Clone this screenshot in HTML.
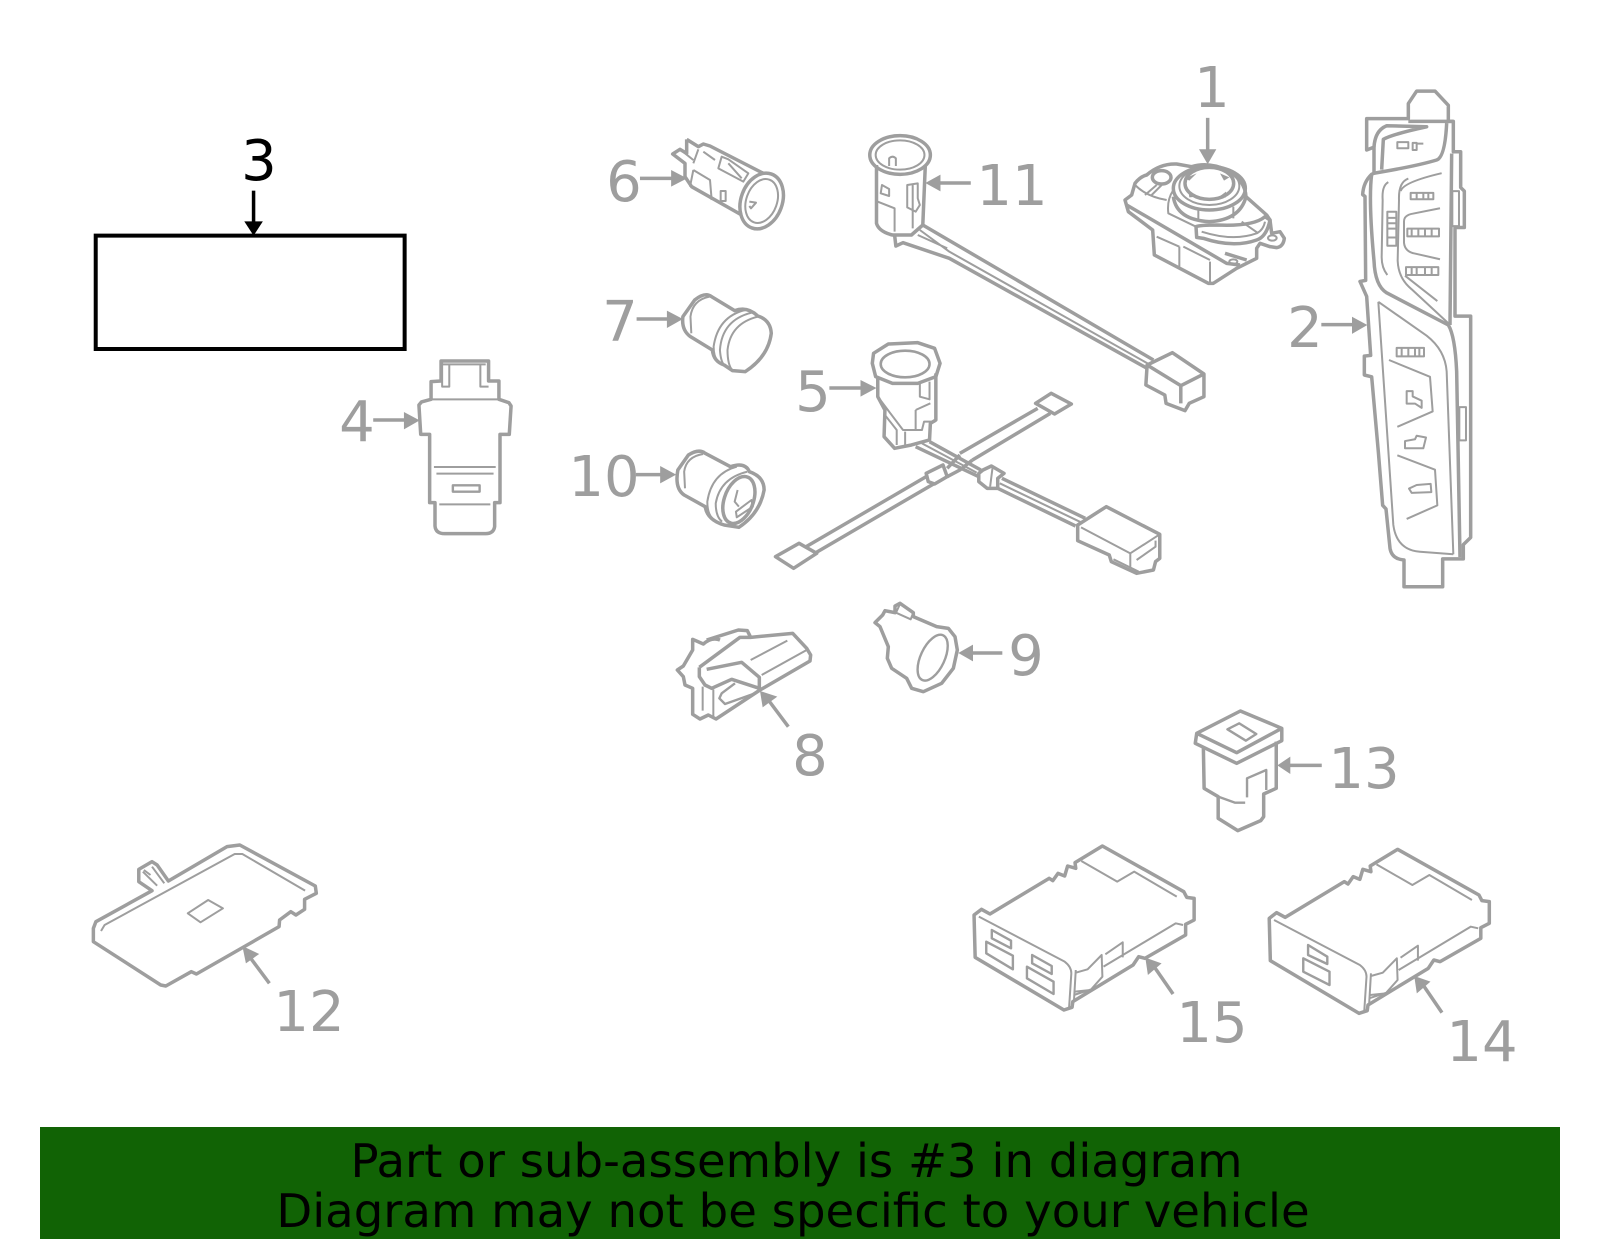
<!DOCTYPE html>
<html><head><meta charset="utf-8"><style>
html,body{margin:0;padding:0;background:#fff;width:1600px;height:1249px;overflow:hidden}
svg{display:block;position:absolute;left:0;top:0}
path,line,ellipse,rect,polygon,polyline{vector-effect:non-scaling-stroke;stroke-linejoin:round}
.o{fill:none;stroke:#9e9e9e;stroke-width:3.500}
.i{fill:none;stroke:#9e9e9e;stroke-width:2}
.a{fill:none;stroke:#9e9e9e;stroke-width:3.500}
.h{fill:#9e9e9e;stroke:none}
text{font-family:"DejaVu Sans","Liberation Sans",sans-serif}
.l{font-size:56px;fill:#9e9e9e;text-anchor:middle}
.b{font-size:46.600px;fill:#000;text-anchor:middle}
</style></head><body>
<svg width="1600" height="1249" viewBox="0 0 1600 1249" xmlns="http://www.w3.org/2000/svg">
<rect x="40" y="1127" width="1520" height="112" fill="#116305"/>
<text class="b" x="796.500" y="1177">Part or sub-assembly is #3 in diagram</text>
<text class="b" x="793" y="1227">Diagram may not be specific to your vehicle</text>

<text class="l" x="1212" y="107">1</text>
<text class="l" x="1305" y="347">2</text>
<text class="l" x="259" y="180" style="fill:#000">3</text>
<text class="l" x="357" y="441">4</text>
<text class="l" x="813" y="411">5</text>
<text class="l" x="624" y="201">6</text>
<text class="l" x="620" y="341">7</text>
<text class="l" x="810" y="775">8</text>
<text class="l" x="1026" y="675">9</text>
<text class="l" x="604" y="496">10</text>
<text class="l" x="1012" y="205">11</text>
<text class="l" x="309" y="1031">12</text>
<text class="l" x="1364" y="788">13</text>
<text class="l" x="1482" y="1061">14</text>
<text class="l" x="1212" y="1042">15</text>

<!-- zoom 7 : part 1 -->
<g transform="translate(1120,150) scale(.33333,.33333)">
<path class="o" d="M15,150 L35,135 L45,100 Q60,80 80,75 Q120,40 170,42 L215,50 Q265,35 320,60 Q375,90 378,140 L440,195 L450,210 L455,250 L480,245 L493,265 Q490,290 470,293 L450,290 L420,280 L410,295 L410,325 L380,340 L350,355 L280,400 L265,400 L103,315 L98,240 L25,185 Z"/>
<ellipse class="o" cx="268" cy="115" rx="108" ry="65"/>
<ellipse class="i" cx="268" cy="108" rx="90" ry="57"/>
<ellipse class="o" cx="268" cy="100" rx="73" ry="48"/>
<ellipse class="o" cx="125" cy="82" rx="28" ry="20"/>
<path class="o" d="M160,140 Q170,210 268,215 Q360,210 378,140"/>
<path class="i" d="M235,178 V213 M340,170 V205 M75,135 L110,105 M95,135 L125,105 M45,105 Q80,140 140,150 M160,120 Q140,150 145,190 L228,230"/>
<path class="o" d="M228,230 Q240,225 290,225 Q400,230 435,200 L450,210 Q440,260 410,270 Q340,295 250,265 L230,262 Z"/>
<path class="i" d="M245,245 Q340,275 410,250 Q430,240 435,215 M365,215 L415,250"/>
<path class="o" d="M20,165 L320,340 L360,345 M315,310 L380,330"/>
<ellipse class="i" cx="340" cy="335" rx="12" ry="7"/>
<ellipse class="i" cx="457" cy="264" rx="13" ry="8"/>
<path class="i" d="M178,290 V350 M270,335 V398 M110,260 L178,290 M190,290 L270,330"/>
<path class="h" d="M195,85 L230,70 L208,92 Z M300,70 L328,82 L312,92 Z M205,122 L232,140 L208,142 Z M318,125 L295,142 L318,142 Z"/>
</g>

<!-- zoom 1 : part 2 + arrows -->
<g transform="translate(1100,50) scale(.33333,.35714)">
<line class="a" x1="323" y1="190" x2="323" y2="285"/><polygon class="h" points="297,278 349,278 323,320"/>
<line class="a" x1="664" y1="769" x2="760" y2="769"/><polygon class="h" points="756,747 756,795 802,770"/>
<path class="o" d="M950,115 L1005,115 L1045,155 L1045,200 L1060,200 L1060,285 L1082,285 L1082,385 L1093,395 L1093,497 L1065,497 L1065,745 L1112,745 L1112,1365 L1090,1385 L1090,1425 L1028,1425 L1028,1503 L912,1503 L912,1428 Q875,1425 870,1395 L858,1285 L848,1275 L835,1125 L815,915 L793,910 L793,857 L812,855 L800,690 L780,648 L797,645 L795,410 L788,405 Q790,370 815,348 L822,345 L822,272 L800,280 L800,192 L925,192 L925,150 Z"/>
<path class="o" d="M925,200 L1060,200 M822,345 Q950,325 1010,308 Q1035,300 1040,205 M822,272 Q825,225 860,212 L980,215 Q880,235 850,250 L845,335"/>
<path class="o" d="M815,348 Q805,420 822,590 Q825,660 860,680 L1045,770 Q1065,800 1070,900 L1080,1420 M1055,290 L1050,770"/>
<path class="i" d="M865,370 Q845,380 848,420 L845,580 Q845,610 862,630 M925,360 Q895,370 897,420 L893,590 Q895,640 935,670 L1045,765 M902,395 Q910,370 1025,345 M1020,443 L940,458 Q912,462 912,480 L912,540 Q915,565 945,570 L1020,586 M915,632 L1012,703"/>
<path class="i" d="M835,705 L880,1330 Q890,1400 960,1405 L1060,1412 M835,705 L980,800 Q1035,840 1040,900 L1060,1412 M867,868 L990,915 L998,1012 L892,1055 M892,1135 L1005,1175 L1012,1275 L920,1313"/>
<rect class="i" x="862" y="453" width="27" height="95"/><path class="i" d="M862,470 H889 M862,485 H889 M862,500 H889 M862,525 H889"/>
<rect class="i" x="932" y="400" width="68" height="18"/><path class="i" d="M950,400 V418 M970,400 V418 M985,400 V418"/>
<rect class="i" x="922" y="500" width="95" height="22"/><path class="i" d="M935,500 V522 M955,500 V522 M975,500 V522 M995,500 V522"/>
<rect class="i" x="918" y="608" width="97" height="22"/><path class="i" d="M935,608 V630 M950,608 V630 M975,608 V630 M995,608 V630"/>
<rect class="i" x="890" y="834" width="82" height="24"/><path class="i" d="M905,834 V858 M925,834 V858 M945,834 V858 M958,834 V858"/>
<path class="i" d="M892,258 H925 V275 H892 Z M938,260 H950 V280 H938 Z M952,262 H970"/>
<path class="i" d="M920,955 L938,955 L938,970 L965,982 L965,1002 L945,990 L920,990 Z"/>
<path class="i" d="M915,1095 L945,1090 L950,1080 L978,1085 L970,1115 L915,1115 Z"/>
<path class="i" d="M927,1228 L950,1218 L992,1215 L994,1238 L935,1240 Z"/>
<rect class="i" x="1057" y="395" width="20" height="98"/>
<rect class="i" x="1078" y="1000" width="20" height="93"/>
</g>

<!-- zoom 3 : part 3, 4 -->
<g transform="translate(0,120) scale(.35714,.33333)">
<rect x="268" y="347" width="865" height="340" fill="none" stroke="#000" stroke-width="4" style="stroke-linejoin:miter"/>
<line x1="710" y1="212" x2="710" y2="310" stroke="#000" stroke-width="3.500"/>
<polygon fill="#000" points="684,304 736,304 710,347"/>
<line class="a" x1="1045" y1="900" x2="1135" y2="900"/><polygon class="h" points="1131,876 1131,928 1175,901"/>
<path class="o" d="M1235,723 L1368,723 L1368,783 L1397,783 L1397,838 L1425,848 L1431,858 L1426,943 L1400,943 L1400,1148 L1385,1148 L1385,1220 Q1382,1241 1360,1241 L1245,1241 Q1220,1241 1218,1218 L1218,1148 L1203,1148 L1203,943 L1178,943 L1173,855 L1180,846 L1207,838 L1207,785 L1235,783 Z"/>
<path class="i" d="M1207,838 H1397 M1238,733 H1360 M1238,723 V800 H1258 V733 M1345,733 V800 H1368 M1215,1041 H1388 M1222,1061 H1382 M1230,1153 H1373"/>
<rect class="i" x="1268" y="1096" width="75" height="19" style="stroke-width:2.400"/>
</g>

<!-- zoom 8 : part 6 -->
<g transform="translate(660,130) scale(.33333,.33333)">
<path class="o" d="M80,28 L115,50 L130,42 L150,48 L310,130 M245,255 L95,170 L75,140 L75,100 L38,72 L60,58 L80,70 L80,28"/>
<ellipse class="o" cx="305" cy="213" rx="62" ry="86" transform="rotate(20 305 213)"/>
<ellipse class="i" cx="305" cy="213" rx="46" ry="68" transform="rotate(20 305 213)"/>
<path class="i" d="M100,120 L150,150 L155,210 M100,120 L90,170 M115,58 L100,100 M130,65 L165,90 M185,80 L205,88 L265,130 L250,155 L175,115 Z M205,100 L245,145 M60,58 L100,90"/>
<rect class="i" x="182" y="183" width="15" height="30"/>
<path class="i" d="M268,215 L288,218 L273,235 L268,228"/>
</g>

<!-- zoom 2 : parts 5,7,10,11 -->
<g transform="translate(560,120) scale(.42088,.33333)">
<line class="a" x1="190" y1="175" x2="268" y2="175"/><polygon class="h" points="264,150 264,200 302,175"/>
<line class="a" x1="182" y1="597" x2="258" y2="597"/><polygon class="h" points="254,572 254,624 292,597"/>
<line class="a" x1="640" y1="804" x2="718" y2="804"/><polygon class="h" points="714,780 714,830 752,804"/>
<line class="a" x1="180" y1="1064" x2="242" y2="1064"/><polygon class="h" points="238,1038 238,1090 276,1064"/>
<line class="a" x1="976" y1="189" x2="900" y2="189"/><polygon class="h" points="904,164 904,214 868,189"/>
<!-- 11 -->
<ellipse class="o" cx="808" cy="105" rx="72" ry="58"/>
<ellipse class="i" cx="808" cy="105" rx="58" ry="44"/>
<path class="o" d="M752,135 L752,310 Q758,335 790,345 L835,345 L862,315 L868,135"/>
<path class="o" d="M795,345 L798,378 L815,368 L925,415 L1395,745 M862,315 L1410,720"/>
<path class="i" d="M855,330 L925,395 L1400,733 M850,345 L920,385"/>
<path class="i" d="M782,138 L782,115 Q790,105 798,115 V138 M765,195 L782,207 L782,228 L762,220 Z M755,245 L795,265 L795,335 M838,190 V325 M825,195 L825,262 L845,275 L855,255 L850,235 V190 Z"/>
<path class="o" d="M1395,735 L1455,698 L1530,762 L1530,830 L1495,850 L1485,872 L1440,850 L1437,825 L1392,795 Z M1395,735 L1475,797 L1530,762 M1475,797 V850"/>
<!-- 7 -->
<path class="o" d="M320,540 Q345,515 360,530 L415,572 Q445,558 470,588 Q500,600 502,640 Q495,710 440,755 L410,752 L390,735 Q365,725 362,690 L310,650 Q288,630 292,590 Z"/>
<path class="i" d="M355,530 Q315,540 310,590 L312,640 M470,590 Q405,610 398,690 Q398,735 410,752 M440,570 Q375,590 365,680 Q365,710 375,725 M455,578 Q385,600 380,690 Q382,725 390,735"/>
<!-- 10 -->
<path class="o" d="M305,1005 Q330,985 345,1000 L405,1040 Q440,1025 450,1055 Q485,1070 485,1110 Q475,1180 425,1222 L390,1215 Q350,1200 345,1160 L295,1125 Q272,1105 280,1050 Z"/>
<ellipse class="o" cx="425" cy="1140" rx="35" ry="72" transform="rotate(14 425 1140)"/>
<path class="i" d="M340,1002 Q300,1010 295,1055 L297,1105 M445,1055 Q380,1075 370,1150 Q370,1190 385,1205 M420,1040 Q360,1060 350,1145 Q350,1180 362,1195"/>
<path class="i" d="M418,1175 L455,1140 L458,1160 L420,1192 Z M422,1110 L415,1145 L425,1160"/>
<!-- 5 -->
<path class="o" d="M745,700 L780,672 L850,668 L890,685 L903,730 L893,770 L850,790 L790,790 L750,770 L742,730 Z"/>
<ellipse class="i" cx="820" cy="732" rx="58" ry="40" style="stroke-width:2.600"/>
<path class="o" d="M755,775 L755,830 L772,870 L770,950 L795,985 L835,975 L878,960 L880,910 L893,900 L893,760"/>
<path class="i" d="M755,830 L815,930 L860,930 L865,905 L892,905 M855,785 V830 L878,838 V785 M845,870 L880,850 M845,870 V930 M772,885 L800,930 L800,975 M820,935 V978"/>
<path class="o" d="M878,965 L1000,1050 M845,980 L995,1070"/>
<path class="i" d="M860,970 L990,1058"/>
<path class="o" d="M1005,1050 L1025,1038 L1055,1060 L1040,1075 L1040,1105 L1015,1105 L995,1085 L995,1060 Z M1050,1075 L1248,1195 M1040,1105 L1225,1218"/>
<path class="i" d="M1045,1090 L1238,1207 M1028,1040 L1022,1100"/>
<path class="o" d="M1230,1215 L1298,1160 L1425,1243 L1425,1315 L1415,1325 L1410,1350 L1370,1360 L1310,1325 L1305,1305 L1230,1262 Z"/>
<path class="i" d="M1238,1222 L1355,1300 L1425,1243 M1355,1300 V1345 M1370,1320 L1415,1280 V1262 M1315,1318 L1375,1355"/>
<!-- cross harness -->
<path class="o" d="M950,1000 L1135,865 M980,1020 L1165,880 M1130,850 L1167,820 L1215,852 L1175,882 Z"/>
<path class="o" d="M920,1045 L950,1005 M920,1070 L950,1050 L980,1020 M870,1070 L585,1280 M890,1090 L605,1300 M512,1310 L568,1270 L610,1300 L555,1345 Z"/>
<path class="o" d="M870,1060 L910,1035 L920,1070 L890,1092 L875,1085 Z"/>
</g>

<!-- zoom 4 : parts 8,9 -->
<g transform="translate(640,580) scale(.33333,.33333)">
<line class="a" x1="445" y1="440" x2="385" y2="360"/><polygon class="h" points="360,333 412,350 368,382"/>
<line class="a" x1="1087" y1="219" x2="995" y2="219"/><polygon class="h" points="999,194 999,244 955,219"/>
<path class="o" d="M200,180 L295,150 L322,152 L332,172 L458,160 L500,205 L512,225 L510,243 L360,330 L228,417 L205,405 L180,417 L158,403 L158,325 L135,315 L130,290 L112,270 L130,258 L158,210 L158,178 L190,192 Q215,170 240,180"/>
<path class="o" d="M178,262 L300,172 L332,172 M178,262 L178,290 L195,315 L215,325 L275,298 L358,325 L358,292 L305,247 L200,268"/>
<path class="i" d="M332,240 L442,182 M365,285 L500,210 M188,320 V392 M220,328 V410"/>
<path class="i" d="M285,310 L245,340 L238,355 L255,372 L345,340" style="stroke-width:2.400"/>
<!-- 9 -->
<path class="o" d="M705,128 L728,105 L735,92 L765,98 L765,78 L780,70 L820,98 L820,110 L890,140 L925,145 L945,170 L952,210 L940,265 L905,310 L850,335 L815,325 L800,295 L755,265 L742,235 L745,200 L720,140 Z"/>
<ellipse class="i" cx="878" cy="233" rx="36" ry="74" transform="rotate(25 878 233)" style="stroke-width:2.400"/>
<path class="i" d="M768,98 L812,118 L820,98 M780,72 L768,98"/>
</g>

<!-- zoom 5 : parts 13,14,15 -->
<g transform="translate(950,690) scale(.36990,.33333)">
<line class="a" x1="1005" y1="226" x2="915" y2="226"/><polygon class="h" points="920,200 920,252 885,226"/>
<line class="a" x1="603" y1="912" x2="555" y2="835"/><polygon class="h" points="528,803 572,820 535,855"/>
<line class="a" x1="1330" y1="968" x2="1282" y2="890"/><polygon class="h" points="1255,858 1299,875 1262,910"/>
<!-- 13 -->
<path class="o" d="M667,130 L785,63 L897,115 L897,152 L775,220 L663,160 Z M667,130 L775,188 L897,115"/>
<path class="o" d="M685,175 L687,295 L725,320 L725,385 L778,422 L840,392 L848,380 L848,312 L882,295 L882,155"/>
<path class="i" d="M750,118 L782,100 L828,132 L800,152 Z M725,320 L770,338 L798,338 M803,322 V265 L855,240 V300" style="stroke-width:2.400"/>
<!-- 15 -->
<path class="o" d="M108,672 L268,565 L278,572 L292,550 L310,558 L318,528 L340,535 L338,518 L412,468 L632,605 L640,622 L660,625 L660,690 L637,703 L637,735 L527,805 L510,800 L495,825 L332,935 L330,952 L308,960 L68,802 L65,675 L85,658 L108,672 Z"/>
<path class="i" d="M78,680 L310,815 Q328,830 328,850 L322,952 M355,513 L452,575 L498,545 L613,620 M340,848 L372,838 L410,795 L412,860 L380,900 L338,905 M335,915 L382,898 M415,830 L610,700 L630,705 M420,793 L467,757 L467,802 M340,840 L335,935"/>
<path class="i" style="stroke-width:2.400" d="M113,720 L165,752 L165,775 L113,745 Z M98,755 L170,797 L170,838 L98,790 Z M222,795 L275,828 L275,852 L222,820 Z M208,830 L280,875 L280,912 L208,865 Z"/>
<!-- 14 -->
<g transform="translate(798,10)">
<path class="o" d="M108,672 L268,565 L278,572 L292,550 L310,558 L318,528 L340,535 L338,518 L412,468 L632,605 L640,622 L660,625 L660,690 L637,703 L637,735 L527,805 L510,800 L495,825 L332,935 L330,952 L308,960 L68,802 L65,675 L85,658 L108,672 Z"/>
<path class="i" d="M78,680 L310,815 Q328,830 328,850 L322,952 M355,513 L452,575 L498,545 L613,620 M340,848 L372,838 L410,795 L412,860 L380,900 L338,905 M335,915 L382,898 M415,830 L610,700 L630,705 M420,793 L467,757 L467,802 M340,840 L335,935"/>
<path class="i" style="stroke-width:2.400" d="M170,755 L222,790 L222,812 L170,785 Z M157,795 L228,835 L228,875 L157,835 Z"/>
</g>
</g>

<!-- zoom 6 : part 12 -->
<g transform="translate(0,820) scale(.51020,.33333)">
<line class="a" x1="528" y1="490" x2="490" y2="412"/><polygon class="h" points="475,378 508,402 482,430"/>
<path class="o" d="M188,305 L298,212 L272,185 L272,148 L298,125 L308,135 L330,183 L445,80 L470,75 L618,198 L620,220 L597,238 L597,268 L580,285 L570,275 L548,300 L547,320 L385,462 L375,455 L325,498 L315,495 L183,365 L183,325 Z"/>
<path class="i" d="M198,333 L205,315 L460,102 L475,102 L598,212 M280,155 L308,197 M298,140 L322,190 M282,150 L295,165"/>
<path class="i" d="M368,280 L408,240 L437,265 L393,307 Z"/>
</g>
</svg>
</body></html>
